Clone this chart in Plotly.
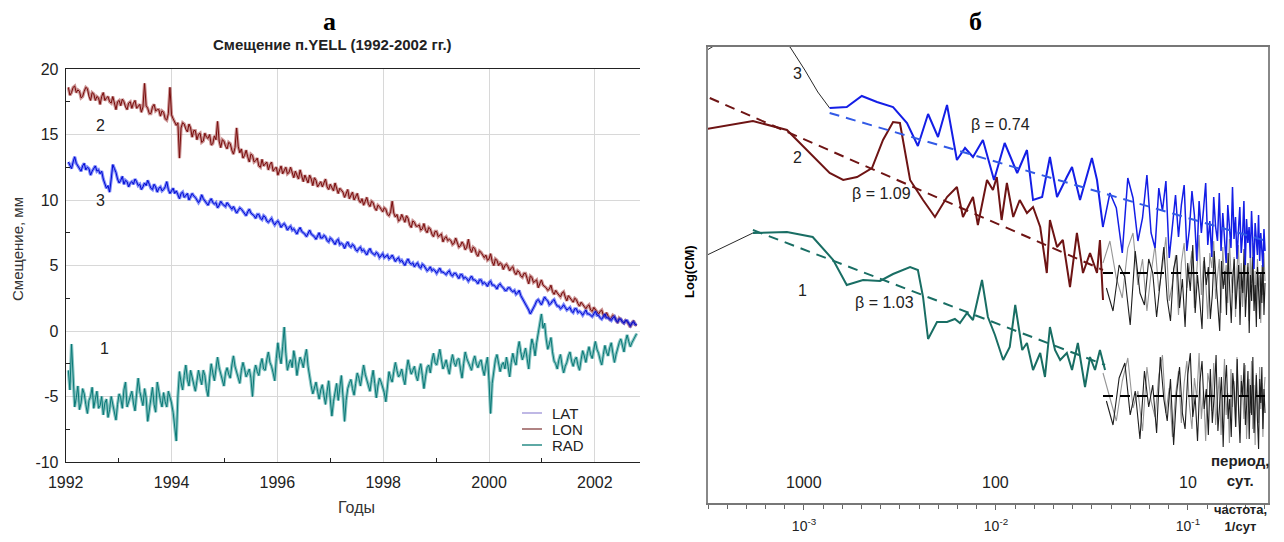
import numpy as np
import plotly.graph_objects as go

# ================= Panel "а": displacement of YELL, mm =================
t_start = 1992.05
t_step = 0.03  # years between samples

lon_mm = [
    18.6, 18.0, 18.2, 18.6, 18.7, 18.2, 18.4, 18.3, 17.8, 17.9, 18.3, 18.6, 18.5, 17.9, 17.6, 18.2, 18.1, 17.6, 17.9, 17.8,
    17.3, 17.9, 18.2, 17.6, 17.8, 17.9, 17.5, 17.4, 17.9, 17.3, 16.9, 17.5, 17.6, 17.2, 17.7, 17.5, 17.1, 16.9, 17.4, 17.5,
    17.0, 17.4, 17.6, 17.0, 17.2, 17.3, 16.7, 17.1, 18.9, 17.2, 17.0, 16.6, 16.6, 17.1, 17.3, 16.8, 16.9, 16.9, 16.4, 16.8,
    16.7, 16.2, 16.1, 16.6, 18.6, 16.5, 16.2, 16.0, 15.7, 15.9, 13.2, 15.5, 15.9, 15.8, 15.4, 15.2, 15.8, 15.5, 14.8, 15.3,
    15.3, 14.6, 15.0, 15.1, 14.4, 14.5, 15.1, 14.8, 14.7, 15.0, 14.2, 14.3, 14.9, 14.6, 16.0, 14.5, 14.0, 14.6, 14.5, 14.1,
    13.9, 14.4, 14.3, 13.8, 13.5, 14.0, 15.5, 14.1, 13.6, 13.9, 13.2, 13.4, 13.8, 13.3, 12.9, 13.5, 13.4, 12.9, 13.0, 13.2,
    12.6, 12.5, 13.1, 12.6, 12.8, 12.9, 12.3, 12.7, 12.9, 12.2, 12.4, 12.5, 11.9, 12.3, 12.6, 12.0, 12.2, 12.5, 12.0, 12.1,
    12.5, 12.1, 11.7, 12.2, 11.9, 11.6, 12.3, 11.8, 11.4, 11.9, 11.6, 11.3, 11.9, 11.6, 11.1, 11.7, 11.5, 11.0, 11.2, 11.4,
    11.0, 11.3, 11.6, 11.0, 10.8, 11.2, 10.9, 10.7, 11.3, 10.9, 10.5, 10.9, 10.7, 10.6, 10.2, 10.5, 10.8, 10.1, 10.4, 10.6,
    10.0, 10.2, 10.5, 10.0, 9.8, 10.1, 9.6, 9.9, 10.2, 9.7, 9.5, 9.9, 9.8, 9.4, 9.2, 9.6, 9.5, 9.3, 9.1, 9.4,
    9.3, 8.9, 8.8, 9.1, 9.9, 9.0, 8.7, 8.9, 8.4, 8.5, 8.9, 8.6, 8.3, 8.8, 8.6, 8.1, 7.9, 8.4, 8.3, 8.0,
    8.0, 8.1, 7.7, 7.8, 8.2, 7.7, 7.5, 7.9, 7.8, 7.4, 7.2, 7.6, 7.6, 7.2, 7.3, 7.4, 6.8, 7.1, 7.2, 6.9,
    7.0, 6.9, 6.6, 6.7, 7.1, 6.8, 6.4, 6.5, 6.8, 6.6, 6.2, 6.4, 7.0, 6.3, 6.0, 6.4, 6.3, 5.9, 5.7, 6.1,
    6.0, 5.8, 5.6, 5.8, 5.4, 5.5, 5.9, 5.3, 5.0, 5.5, 5.4, 5.0, 5.2, 5.1, 4.7, 5.0, 5.1, 4.9, 4.6, 4.8,
    4.9, 4.5, 4.3, 4.6, 4.5, 4.2, 4.1, 4.4, 4.4, 4.0, 3.6, 4.2, 4.1, 3.7, 3.8, 3.9, 3.3, 3.6, 3.9, 3.5,
    3.4, 3.3, 3.1, 3.2, 3.5, 3.0, 2.8, 3.1, 2.9, 2.7, 2.6, 2.9, 3.0, 2.6, 2.3, 2.7, 2.5, 2.3, 2.2, 2.5,
    2.4, 2.1, 1.9, 2.2, 2.0, 1.8, 1.7, 1.9, 2.0, 1.6, 1.5, 1.8, 1.6, 1.4, 1.3, 1.5, 1.6, 1.2, 1.1, 1.4,
    1.2, 0.9, 1.0, 1.2, 1.1, 0.8, 0.6, 1.0, 0.9, 0.7, 0.6, 0.8, 0.7, 0.5, 0.3, 0.6, 0.8, 0.5, 0.4,
]
lat_mm = [
    12.9, 12.6, 12.4, 12.9, 13.3, 12.8, 12.6, 12.3, 12.2, 12.6, 12.8, 12.3, 12.5, 12.4, 11.9, 12.2, 12.4, 12.6, 12.2, 12.3,
    12.0, 12.2, 11.6, 11.2, 10.9, 11.1, 10.6, 11.6, 12.7, 12.4, 12.1, 11.6, 11.3, 11.5, 11.8, 11.2, 11.5, 11.4, 11.0, 11.3,
    11.4, 11.2, 11.6, 11.4, 11.1, 11.2, 10.8, 11.0, 11.3, 11.1, 11.5, 11.2, 10.9, 10.8, 11.2, 11.0, 10.6, 10.9, 11.0, 10.7,
    10.8, 11.0, 11.4, 10.8, 10.5, 10.7, 10.9, 10.5, 10.7, 10.4, 10.1, 10.5, 10.6, 10.2, 10.4, 10.5, 10.0, 10.2, 10.5, 10.3,
    10.2, 10.0, 9.8, 10.0, 10.4, 10.1, 9.9, 9.7, 9.6, 9.9, 10.1, 9.8, 9.7, 9.8, 9.4, 9.6, 9.9, 9.7, 9.6, 9.5,
    9.8, 9.6, 9.4, 9.3, 9.5, 9.3, 9.0, 9.2, 9.4, 9.3, 9.1, 8.9, 8.8, 9.1, 9.3, 9.0, 8.9, 8.8, 8.6, 8.9,
    8.9, 8.6, 8.5, 8.8, 8.7, 8.4, 8.3, 8.5, 8.6, 8.3, 8.1, 8.3, 8.4, 8.2, 7.9, 8.1, 8.2, 8.0, 7.7, 7.9,
    8.0, 7.7, 7.8, 7.6, 7.4, 7.7, 7.9, 7.6, 7.5, 7.4, 7.2, 7.5, 7.7, 7.4, 7.3, 7.2, 7.0, 7.3, 7.5, 7.1,
    7.1, 7.3, 7.2, 6.9, 6.8, 7.1, 7.0, 6.8, 6.6, 6.9, 7.0, 6.6, 6.7, 6.6, 6.3, 6.6, 6.8, 6.5, 6.4, 6.6,
    6.5, 6.2, 6.1, 6.3, 6.4, 6.1, 6.2, 6.0, 5.8, 6.1, 6.3, 6.0, 5.9, 5.8, 6.0, 5.9, 5.6, 5.8, 5.9, 5.6,
    5.7, 5.8, 5.5, 5.6, 5.8, 5.5, 5.3, 5.5, 5.6, 5.3, 5.4, 5.2, 5.0, 5.3, 5.5, 5.2, 5.1, 5.2, 4.9, 5.1,
    5.2, 4.9, 4.8, 5.1, 5.0, 4.8, 4.6, 4.7, 4.9, 4.6, 4.7, 4.6, 4.4, 4.6, 4.8, 4.5, 4.5, 4.4, 4.3, 4.5,
    4.6, 4.3, 4.2, 4.4, 4.4, 4.2, 4.0, 4.3, 4.3, 4.0, 4.1, 4.0, 3.8, 4.0, 4.2, 3.9, 3.9, 3.8, 3.6, 3.9,
    3.9, 3.6, 3.7, 3.6, 3.4, 3.7, 3.8, 3.5, 3.5, 3.4, 3.2, 3.5, 3.6, 3.4, 3.3, 3.1, 3.1, 3.3, 3.3, 3.1,
    3.0, 3.1, 2.8, 2.9, 3.1, 2.7, 2.5, 2.3, 2.1, 1.9, 1.6, 1.3, 1.5, 1.8, 2.0, 2.3, 2.4, 2.2, 2.0, 2.3,
    2.6, 2.4, 2.3, 2.0, 2.1, 2.3, 2.4, 2.1, 1.9, 1.9, 1.7, 1.8, 2.0, 1.8, 1.6, 1.7, 1.8, 1.5, 1.4, 1.7,
    1.7, 1.4, 1.5, 1.4, 1.2, 1.4, 1.6, 1.3, 1.3, 1.2, 1.1, 1.3, 1.5, 1.2, 1.2, 1.0, 0.9, 1.1, 1.3, 1.0,
    1.0, 0.9, 0.8, 1.0, 1.1, 0.8, 0.7, 0.9, 0.9, 0.7, 0.6, 0.8, 0.8, 0.6, 0.4, 0.6, 0.7, 0.5, 0.5,
]
rad_mm = [
    -3.0, -4.5, -1.0, -3.8, -5.8, -5.1, -4.2, -6.0, -5.5, -4.4, -4.8, -5.6, -6.3, -5.3, -5.0, -4.3, -5.9, -5.2, -4.6, -5.9,
    -5.7, -5.0, -6.4, -5.5, -5.2, -6.6, -6.0, -5.0, -5.6, -6.0, -6.8, -5.6, -4.8, -5.1, -5.9, -4.5, -3.9, -5.8, -5.4, -4.9,
    -4.6, -5.5, -6.1, -4.8, -3.6, -4.6, -5.2, -5.7, -4.4, -5.1, -6.9, -6.0, -4.9, -4.3, -5.6, -6.2, -3.9, -4.7, -5.3, -5.8,
    -4.7, -5.4, -5.8, -4.6, -5.0, -5.5, -6.2, -7.3, -8.4, -5.0, -3.1, -3.9, -4.5, -3.4, -2.6, -3.7, -4.2, -3.0, -3.5, -4.1,
    -4.6, -3.8, -3.0, -3.6, -4.1, -3.0, -3.4, -4.4, -5.0, -3.6, -2.5, -3.2, -3.8, -2.9, -2.0, -2.8, -3.3, -3.6, -4.2, -3.2,
    -2.8, -3.3, -3.6, -2.6, -1.9, -2.7, -3.2, -3.7, -4.0, -3.0, -2.4, -2.9, -3.5, -3.2, -2.9, -3.6, -5.0, -3.2, -2.6, -3.1,
    -3.4, -2.6, -2.1, -2.9, -3.0, -2.2, -1.6, -2.4, -2.7, -3.2, -3.8, -2.1, -0.9, -1.9, -2.5, -1.2, 0.3, -1.7, -3.0, -2.5,
    -2.2, -2.8, -1.5, -2.2, -3.4, -2.6, -2.0, -2.3, -2.8, -2.0, -1.4, -2.7, -3.6, -4.2, -4.8, -4.4, -3.9, -4.6, -5.2, -4.5,
    -4.1, -4.9, -5.6, -4.6, -3.8, -5.2, -6.5, -5.4, -4.6, -4.0, -5.3, -4.5, -3.4, -5.0, -6.9, -5.3, -4.4, -4.0, -3.7, -4.4,
    -4.9, -4.0, -3.2, -3.6, -4.2, -3.4, -2.6, -3.3, -3.8, -4.1, -4.6, -3.7, -3.0, -4.0, -5.1, -4.2, -3.6, -3.9, -4.3, -4.7,
    -5.4, -4.1, -3.1, -3.6, -3.9, -3.1, -2.4, -3.0, -3.5, -3.3, -2.9, -3.6, -4.1, -3.0, -2.2, -2.8, -3.3, -3.0, -2.7, -3.4,
    -3.8, -3.0, -2.5, -3.4, -4.4, -3.5, -2.8, -2.6, -3.2, -2.3, -1.7, -2.4, -2.6, -2.0, -1.4, -2.2, -2.9, -2.6, -2.2, -2.8,
    -3.3, -2.4, -1.8, -2.4, -2.7, -2.2, -2.1, -2.9, -3.6, -2.5, -1.6, -2.1, -2.4, -2.7, -3.0, -2.3, -1.9, -2.5, -2.8, -2.4,
    -2.2, -2.9, -3.4, -2.6, -2.0, -3.8, -6.3, -4.0, -2.9, -2.2, -1.8, -2.6, -3.1, -2.6, -2.4, -2.9, -2.0, -2.7, -3.5, -2.4,
    -1.7, -2.3, -2.6, -1.5, -0.8, -1.6, -2.2, -1.8, -1.3, -2.1, -2.9, -1.5, -0.6, -1.1, -1.9, -0.9, -0.2, 0.4, 1.3, 0.2,
    0.6, -0.6, -1.4, -1.0, -0.5, -1.6, -2.3, -2.5, -2.9, -2.2, -1.8, -2.6, -3.2, -2.7, -2.4, -1.9, -1.6, -2.3, -2.7, -2.2,
    -2.0, -2.6, -3.0, -2.2, -1.5, -1.9, -2.4, -1.7, -1.2, -1.8, -2.1, -1.4, -0.8, -1.4, -1.7, -2.2, -2.6, -1.8, -1.1, -1.6,
    -1.9, -1.3, -0.9, -1.7, -2.4, -1.8, -1.3, -0.9, -0.6, -1.2, -1.6, -0.8, -0.3, -0.8, -1.2, -0.9, -0.7, -0.4, -0.2,
]
years = t_start + t_step * np.arange(len(lon_mm))

year_ticks = [1992, 1994, 1996, 1998, 2000, 2002]
mm_ticks = [-10, -5, 0, 5, 10, 15, 20]
mm_tick_text = ["-10", "-5", "0", "5", "10", "15", "20"]
series_names = ["LAT", "LON", "RAD"]

# ================= Panel "б": spectra, log-log =================
f_black3 = [0.000313, 0.000464, 0.000665, 0.000846, 0.00101, 0.00118, 0.00136]
p_black3 = [4.53, 4.73, 4.68, 4.56, 4.33, 4.11, 3.95]

f_lat = [0.00136, 0.00167, 0.00200, 0.00240, 0.00291, 0.00344, 0.00392, 0.00443,
         0.00499, 0.00556, 0.00626, 0.00690, 0.00759, 0.00855, 0.00977, 0.0111,
         0.0129, 0.0145, 0.0156, 0.0174, 0.0191, 0.0208, 0.0234, 0.0249, 0.0274,
         0.0316, 0.0336, 0.0361]
p_lat = [3.95, 3.96, 4.07, 4.01, 3.96, 3.80, 3.57, 3.89,
         3.66, 3.98, 3.43, 3.55, 3.46, 3.63, 3.23, 3.60,
         3.30, 3.53, 3.03, 3.06, 3.46, 3.06, 3.26, 3.36, 3.03,
         3.45, 3.23, 2.76]

f_lon = [0.000313, 0.000542, 0.000815, 0.00104, 0.00136, 0.00160, 0.00189, 0.00226,
         0.00258, 0.00291, 0.00316, 0.00357, 0.00417, 0.00481, 0.00556, 0.00626,
         0.00673, 0.00759, 0.00805, 0.00898, 0.00964, 0.0101, 0.0107, 0.0114,
         0.0123, 0.0133, 0.0145, 0.0156, 0.0170, 0.0184, 0.0191, 0.0208, 0.0223,
         0.0243, 0.0264, 0.0284, 0.0309, 0.0336, 0.0348, 0.0361]
p_lon = [3.74, 3.82, 3.73, 3.53, 3.30, 3.23, 3.26, 3.35,
         3.63, 3.81, 3.80, 3.23, 3.03, 2.86, 3.06, 3.16,
         2.86, 3.06, 2.78, 3.23, 3.13, 3.26, 2.83, 3.20,
         2.86, 3.03, 2.90, 2.96, 2.76, 2.30, 2.83, 2.56, 2.63,
         2.16, 2.70, 2.30, 2.50, 2.30, 2.63, 2.03]

f_black1 = [0.000313, 0.000542]
p_black1 = [2.48, 2.70]

f_rad = [0.000542, 0.000815, 0.00111, 0.00142, 0.00167, 0.00203, 0.00249, 0.00291,
         0.00357, 0.00392, 0.00417, 0.00443, 0.00493, 0.00556, 0.00611, 0.00649,
         0.00707, 0.00759, 0.00846, 0.00908, 0.00988, 0.0109, 0.0118, 0.0126,
         0.0137, 0.0145, 0.0156, 0.0170, 0.0180, 0.0191, 0.0203, 0.0216, 0.0234,
         0.0249, 0.0267, 0.0291, 0.0309, 0.0328, 0.0348, 0.0370]
p_rad = [2.70, 2.71, 2.66, 2.43, 2.18, 2.23, 2.22, 2.29,
         2.36, 2.33, 2.06, 1.64, 1.81, 1.81, 1.84, 1.80,
         1.90, 1.83, 2.23, 1.86, 1.68, 1.43, 1.56, 1.98,
         1.53, 1.60, 1.33, 1.50, 1.26, 1.76, 1.53, 1.43, 1.50,
         1.33, 1.60, 1.16, 1.46, 1.33, 1.53, 1.33]

hf_f_min, hf_f_max = 0.0361, 0.252
p_lat_hf = [2.76, 3.10, 2.95, 2.50, 3.25, 3.05, 2.62, 2.85, 3.28, 2.70,
            2.55, 3.15, 2.92, 3.22, 2.45, 2.80, 3.08, 2.66, 2.98, 3.18,
            2.52, 2.74, 3.12, 2.88, 2.42, 3.02, 2.70, 2.94, 3.20, 2.58,
            2.82, 2.46, 3.06, 2.76, 2.62, 3.10, 2.52, 2.90, 2.68, 2.40,
            2.98, 2.80, 2.55, 3.16, 2.64, 2.86, 2.44, 2.72, 2.96, 2.50,
            2.68, 3.02, 2.38, 2.84, 2.60, 2.76, 2.45, 2.92, 2.58, 2.34,
            2.80, 2.66, 2.48, 2.88, 2.42, 2.70, 2.56, 2.36, 2.74, 2.52]
p_lon_hf_gray = [2.40, 2.62, 2.25, 2.05, 2.55, 2.70, 2.18, 2.44, 1.92, 2.30,
                 2.58, 2.12, 2.36, 2.66, 2.02, 2.20, 2.48, 1.88, 2.40, 2.60,
                 2.15, 2.32, 2.52, 1.95, 2.28, 2.68, 2.08, 2.42, 2.22, 1.84,
                 2.50, 2.35, 2.62, 2.04, 2.26, 2.44, 1.90, 2.56, 2.18, 2.38,
                 2.00, 2.64, 2.30, 2.10, 2.46, 1.86, 2.34, 2.58, 2.14, 2.40,
                 1.96, 2.24, 2.52, 2.06, 2.36, 1.82, 2.48, 2.20, 2.60, 2.02,
                 2.32, 1.90, 2.44, 2.16, 2.28, 1.80, 2.38, 2.08, 2.50, 2.22]
p_lon_hf_black = [2.15, 1.92, 2.38, 2.26, 1.78, 2.52, 2.10, 1.98, 2.44, 2.30,
                  1.86, 2.20, 2.56, 2.04, 1.82, 2.34, 2.48, 1.95, 2.24, 1.76,
                  2.40, 2.12, 2.58, 1.90, 2.28, 2.02, 1.74, 2.46, 2.18, 2.36,
                  1.84, 2.08, 2.52, 2.22, 1.96, 1.72, 2.42, 2.14, 2.32, 1.88,
                  2.50, 2.06, 1.80, 2.26, 2.44, 1.94, 2.16, 2.38, 1.78, 2.30,
                  2.10, 2.54, 1.86, 2.20, 2.40, 1.70, 2.28, 2.02, 2.46, 1.92,
                  2.18, 1.76, 2.36, 2.12, 1.84, 2.30, 2.00, 2.44, 1.88, 2.20]
p_rad_hf_gray = [1.30, 1.05, 0.82, 1.22, 1.45, 0.95, 1.12, 0.72, 1.36, 1.02,
                 0.86, 1.28, 1.48, 0.90, 1.15, 0.66, 1.08, 1.32, 0.80, 1.20,
                 1.42, 0.98, 0.74, 1.25, 1.05, 1.50, 0.84, 1.12, 0.62, 1.30,
                 1.18, 0.92, 1.40, 0.78, 1.02, 1.26, 0.68, 1.16, 1.44, 0.88,
                 1.10, 0.60, 1.34, 0.96, 1.22, 0.76, 1.46, 1.00, 0.70, 1.28,
                 1.12, 0.84, 1.38, 0.64, 1.06, 1.24, 0.90, 1.42, 0.74, 1.18,
                 0.58, 1.30, 1.02, 0.80, 1.36, 0.94, 1.20, 0.66, 1.10, 1.26]
p_rad_hf_black = [1.02, 0.78, 1.25, 1.40, 0.88, 1.12, 0.64, 1.32, 0.96, 1.18,
                  0.70, 1.46, 1.04, 0.82, 1.24, 0.58, 1.10, 1.36, 0.90, 0.74,
                  1.28, 1.50, 0.86, 1.06, 0.62, 1.20, 1.42, 0.94, 1.14, 0.68,
                  1.34, 0.80, 1.08, 1.48, 0.72, 0.98, 1.26, 0.56, 1.16, 1.38,
                  0.84, 1.04, 0.66, 1.30, 1.12, 0.76, 1.44, 0.92, 0.60, 1.22,
                  1.06, 1.40, 0.78, 0.98, 1.32, 0.64, 1.18, 0.88, 1.46, 0.70,
                  1.10, 1.28, 0.82, 0.54, 1.24, 1.00, 1.36, 0.74, 1.14, 0.90]
f_hf = np.linspace(hf_f_min, hf_f_max, len(p_lat_hf))
f_hf2 = np.linspace(hf_f_min + 0.0015, hf_f_max, len(p_lon_hf_black))

fit_lat_f, fit_lat_p = [0.00136, 0.246], [3.90, 2.63]
fit_lon_f, fit_lon_p = [0.000323, 0.0361], [4.05, 2.33]
fit_rad_f, fit_rad_p = [0.000542, 0.0370], [2.73, 1.38]
white_f = [0.0361, 0.252]
white_lon_p = [2.30, 2.30]
white_rad_p = [1.07, 1.07]
beta_labels = ["β = 0.74", "β = 1.09", "β = 1.03"]

# ---------------- colours ----------------
C_LAT = "rgb(0,10,210)"
C_LON = "rgb(120,12,12)"
C_RAD = "rgb(8,120,118)"
H_LAT = "rgba(40,60,245,0.6)"
H_LON = "rgba(160,60,60,0.55)"
H_RAD = "rgba(40,150,145,0.55)"
L_LAT = "rgb(170,160,220)"
L_LON = "rgb(150,90,90)"
L_RAD = "rgb(40,140,135)"
C_LAT2 = "rgb(20,30,230)"
C_LON2 = "rgb(110,20,20)"
C_RAD2 = "rgb(25,110,100)"

fig = go.Figure()

# ---- panel a traces (light halo + dark core) ----
for name, vals, core, halo in (("RAD", rad_mm, C_RAD, H_RAD),
                               ("LON", lon_mm, C_LON, H_LON),
                               ("LAT", lat_mm, C_LAT, H_LAT)):
    fig.add_trace(go.Scatter(x=years, y=vals, mode="lines", showlegend=False,
                             hoverinfo="skip", line=dict(color=halo, width=3.2),
                             xaxis="x", yaxis="y"))
    fig.add_trace(go.Scatter(x=years, y=vals, mode="lines", name=name, showlegend=False,
                             line=dict(color=core, width=1.0), xaxis="x", yaxis="y"))

# ---- panel b traces ----
def add2(x, y, color, width, dash=None):
    fig.add_trace(go.Scatter(x=x, y=y, mode="lines", showlegend=False,
                             line=dict(color=color, width=width, dash=dash),
                             xaxis="x2", yaxis="y2"))

add2(f_hf, p_lon_hf_gray, "rgb(150,150,150)", 1.1)
add2(f_hf2, p_lon_hf_black, "rgb(30,30,30)", 1.1)
add2(f_hf, p_rad_hf_gray, "rgb(150,150,150)", 1.1)
add2(f_hf2, p_rad_hf_black, "rgb(30,30,30)", 1.1)
add2(f_hf, p_lat_hf, C_LAT2, 1.5)
add2(f_black3, p_black3, "rgb(40,40,40)", 1)
add2(f_black1, p_black1, "rgb(40,40,40)", 1)
add2(f_lat, p_lat, C_LAT2, 2)
add2(f_lon, p_lon, C_LON2, 2)
add2(f_rad, p_rad, C_RAD2, 2)
add2(fit_lat_f, fit_lat_p, "rgb(50,90,230)", 2, "10px,7px")
add2(fit_lon_f, fit_lon_p, C_LON2, 2, "10px,7px")
add2(fit_rad_f, fit_rad_p, C_RAD2, 2, "10px,7px")
add2(white_f, white_lon_p, "black", 2, "10px,7px")
add2(white_f, white_rad_p, "black", 2, "10px,7px")

FONT = "Arial, Liberation Sans, sans-serif"
SERIF = "Times New Roman, Liberation Serif, serif"
# the page places the figure 8 px from the top-left corner of the window
OFF = 8
W, H = 1284 - 2 * OFF, 542 - 2 * OFF
def PX(x):
    return (x - OFF) / W
def PY(y):
    return 1 - (y - OFF) / H

decade_ticks = [1e-3, 1e-2, 1e-1]
decade_text = ["10<sup>-3</sup>", "10<sup>-2</sup>", "10<sup>-1</sup>"]
minor_log_ticks = [10 ** (k / 10) for k in range(-35, -5) if k % 10 != 0]

fig.update_layout(
    width=W, height=H, margin=dict(l=0, r=0, t=0, b=0, autoexpand=False),
    paper_bgcolor="white", plot_bgcolor="white",
    font=dict(family=FONT, color="#222"),
    showlegend=False,
    xaxis=dict(domain=[PX(65.7), PX(640)], range=[1992, 2002.853], anchor="y",
               automargin=False,
               tickvals=year_ticks, showgrid=True, gridcolor="#d8d8d8", gridwidth=1,
               showline=True, linecolor="#222", linewidth=1, mirror=True,
               ticks="", zeroline=False, tickfont=dict(size=16, color="#222"),
               ticklabelstandoff=6,
               minor=dict(tickvals=[1993, 1995, 1997, 1999, 2001], ticks="inside",
                          ticklen=4, tickcolor="#222", showgrid=False)),
    yaxis=dict(domain=[PY(462), PY(69)], range=[-10, 20], anchor="x",
               automargin=False,
               tickvals=mm_ticks, ticktext=mm_tick_text,
               showgrid=True, gridcolor="#d8d8d8", gridwidth=1,
               showline=True, linecolor="#222", linewidth=1,
               ticks="", zeroline=False, tickfont=dict(size=16, color="#222"),
               ticklabelstandoff=3,
               minor=dict(tickvals=[-7.5, -2.5, 2.5, 7.5, 12.5, 17.5], ticks="inside",
                          ticklen=4, tickcolor="#222", showgrid=False)),
    xaxis2=dict(domain=[PX(708), PX(1268)], type="log", range=[-3.5, -0.583],
                anchor="y2", automargin=False, tickvals=decade_ticks, ticktext=decade_text,
                ticks="outside", ticklen=5, tickcolor="#666",
                showgrid=False, showline=True, linecolor="#777", linewidth=1.5,
                mirror=True, zeroline=False, tickfont=dict(size=14, color="#222"),
                ticklabelstandoff=4,
                minor=dict(tickvals=minor_log_ticks, ticks="outside", ticklen=4,
                           tickcolor="#666", showgrid=False)),
    yaxis2=dict(domain=[PY(503), PY(47)], range=[0, 4.56], anchor="x2",
                automargin=False,
                showticklabels=False, ticks="", showgrid=False,
                showline=True, linecolor="#888", linewidth=1.5, mirror=True,
                zeroline=False),
)

ann = []
def A(text, x, y, xref="paper", yref="paper", size=16, bold=False, family=FONT,
      angle=0, xanchor="center", color="#222"):
    ann.append(dict(text=f"<b>{text}</b>" if bold else text, x=x, y=y, xref=xref,
                    yref=yref, showarrow=False, textangle=angle, xanchor=xanchor,
                    yanchor="middle", font=dict(size=size, family=family, color=color)))

A("а", PX(330), PY(21), size=26, bold=True, family=SERIF, color="black")
A("б", PX(975), PY(21), size=26, bold=True, family=SERIF, color="black")
A("Смещение п.YELL (1992-2002 гг.)", PX(332), PY(45), size=15, bold=True)
A("Смещение, мм", PX(17), PY(249), size=15, angle=-90, color="#333")
A("Годы", PX(356), PY(507), size=16, color="#333")
A("2", 1992.65, 15.7, "x", "y")
A("3", 1992.65, 10.0, "x", "y")
A("1", 1992.74, -1.3, "x", "y")

# legend of panel a (drawn as text + short line samples)
shapes = []
for k, (nm, col) in enumerate(zip(series_names, (L_LAT, L_LON, L_RAD))):
    yy = 413 + 16 * k
    shapes.append(dict(type="line", xref="paper", yref="paper",
                       x0=PX(522), x1=PX(542), y0=PY(yy), y1=PY(yy),
                       line=dict(color=col, width=1.5)))
    A(nm, PX(550), PY(yy), size=15, xanchor="left", color="#222")

A("Log(CM)", PX(689), PY(272), size=13, bold=True, angle=-90, color="black")
A("3", -3.036, 4.30, "x2", "y2")
A("2", -3.036, 3.46, "x2", "y2")
A("1", -3.010, 2.13, "x2", "y2")
A(beta_labels[0], -1.979, 3.79, "x2", "y2")
A(beta_labels[1], -2.594, 3.10, "x2", "y2")
A(beta_labels[2], -2.583, 2.01, "x2", "y2")
for per, lx in (("1000", -3), ("100", -2), ("10", -1)):
    A(per, lx, 0.21, "x2", "y2")
A("период,<br>сут.", PX(1240), PY(470), size=15, bold=True)
A("частота,<br>1/сут", PX(1240), PY(518), size=13, bold=True)

fig.update_layout(annotations=ann, shapes=shapes)
fig.write_html("out.html")
